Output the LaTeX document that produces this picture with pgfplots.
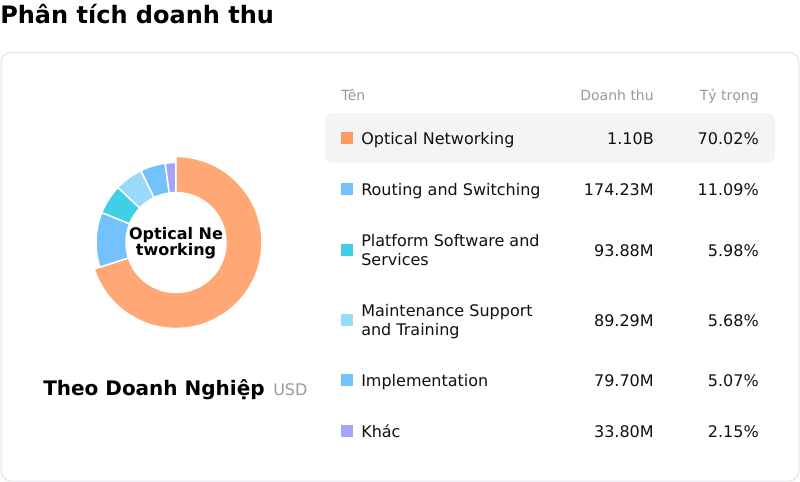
\documentclass[border=0pt]{standalone}
\usepackage{pgfplots}
\pgfplotsset{compat=1.18}
\usepackage{pgfplotstable}
\usepackage{fontspec}
\setmainfont{DejaVu Sans}
\definecolor{cOrange}{HTML}{FFA775}
\definecolor{cOrangeSq}{HTML}{FF9A66}
\definecolor{cRouting}{HTML}{74C2FD}
\definecolor{cPlatform}{HTML}{40CFE6}
\definecolor{cMaint}{HTML}{99DAFB}
\definecolor{cImpl}{HTML}{74C2FD}
\definecolor{cOther}{HTML}{A4A4FC}
\definecolor{cText}{HTML}{111111}
\definecolor{cGray}{HTML}{999999}
\definecolor{cBorder}{HTML}{E2E2EA}
\definecolor{cHi}{HTML}{F4F4F4}

% revenue (millions USD) and share (%)
\pgfplotstableread{
idx value pct
0 1100.00 70.02
1 174.23 11.09
2 93.88 5.98
3 89.29 5.68
4 79.70 5.07
5 33.80 2.15
}\revenue

\begin{document}
\begin{tikzpicture}[x=0.75pt,y=-0.75pt]
\fill[white] (0,0) rectangle (800,482);
% title
\node[anchor=base west, inner sep=0, font=\fontsize{18}{21}\selectfont\bfseries, text=black] at (0,23.5) {Phân tích doanh thu};
% card
\draw[cBorder, line width=0.75pt, rounded corners=7.5pt] (1,52.5) rectangle (799,481);
% highlighted row
\fill[cHi, rounded corners=6pt] (325,113) rectangle (775,163);

% donut
\begin{axis}[at={(132pt,-181.875pt)}, anchor=origin, x=0.75pt, y=0.75pt,
  xmin=-95, xmax=95, ymin=-95, ymax=95, hide axis, clip=false]
\addplot[draw=none, forget plot] table[x expr=0, y expr=0] {\revenue};
\pgfplotsextra{%
  \gdef\cum{0}%
  \foreach \i/\col/\Ro in {0/cOrange/86,1/cRouting/80,2/cPlatform/80,3/cMaint/80,4/cImpl/80,5/cOther/80}{%
    \pgfplotstablegetelem{\i}{pct}\of\revenue
    \pgfmathsetmacro\aS{90-3.6*\cum}%
    \pgfmathsetmacro\aE{90-3.6*(\cum+\pgfplotsretval)}%
    \pgfmathsetmacro\nc{\cum+\pgfplotsretval}%
    \xdef\cum{\nc}%
    \def\Ri{50}%
    \filldraw[fill=\col, draw=white, line width=1.1pt]
      (axis cs:{\Ro*cos(\aS)},{\Ro*sin(\aS)}) arc[start angle=\aS, end angle=\aE, radius=\Ro*0.75pt]
      -- (axis cs:{\Ri*cos(\aE)},{\Ri*sin(\aE)}) arc[start angle=\aE, end angle=\aS, radius=\Ri*0.75pt] -- cycle;
  }%
}
\end{axis}

% centre label
\node[anchor=base, inner sep=0, font=\fontsize{12}{13}\selectfont\bfseries, text=black] at (176,239) {Optical Ne};
\node[anchor=base, inner sep=0, font=\fontsize{12}{13}\selectfont\bfseries, text=black] at (176,255) {tworking};

% subtitle
\node[anchor=base west, inner sep=0, font=\fontsize{15}{18}\selectfont\bfseries, text=black] at (43,395) {Theo Doanh Nghiệp};
\node[anchor=base west, inner sep=0, font=\fontsize{12}{14}\selectfont, text=cGray] at (273,395) {USD};

% table header
\begin{scope}[every node/.style={inner sep=0, font=\fontsize{10.5}{12}\selectfont, text=cGray}]
\node[anchor=base west] at (341,100) {Tên};
\node[anchor=base east] at (654,100) {Doanh thu};
\node[anchor=base east] at (759,100) {Tỷ trọng};
\end{scope}

% table rows
\begin{scope}[every node/.style={inner sep=0, font=\fontsize{12}{14.25}\selectfont, text=cText}]
\fill[cOrangeSq] (341,132) rectangle (353,144);
\node[anchor=base west] at (361,144) {Optical Networking};
\node[anchor=base east] at (654,144) {1.10B};
\node[anchor=base east] at (759,144) {70.02\%};

\fill[cRouting] (341,183) rectangle (353,195);
\node[anchor=base west] at (361,195) {Routing and Switching};
\node[anchor=base east] at (654,195) {174.23M};
\node[anchor=base east] at (759,195) {11.09\%};

\fill[cPlatform] (341,244) rectangle (353,256);
\node[anchor=base west] at (361,246) {Platform Software and};
\node[anchor=base west] at (361,265) {Services};
\node[anchor=base east] at (654,256) {93.88M};
\node[anchor=base east] at (759,256) {5.98\%};

\fill[cMaint] (341,314) rectangle (353,326);
\node[anchor=base west] at (361,316) {Maintenance Support};
\node[anchor=base west] at (361,335) {and Training};
\node[anchor=base east] at (654,326) {89.29M};
\node[anchor=base east] at (759,326) {5.68\%};

\fill[cImpl] (341,374) rectangle (353,386);
\node[anchor=base west] at (361,386) {Implementation};
\node[anchor=base east] at (654,386) {79.70M};
\node[anchor=base east] at (759,386) {5.07\%};

\fill[cOther] (341,425) rectangle (353,437);
\node[anchor=base west] at (361,437) {Khác};
\node[anchor=base east] at (654,437) {33.80M};
\node[anchor=base east] at (759,437) {2.15\%};
\end{scope}
\end{tikzpicture}
\end{document}
